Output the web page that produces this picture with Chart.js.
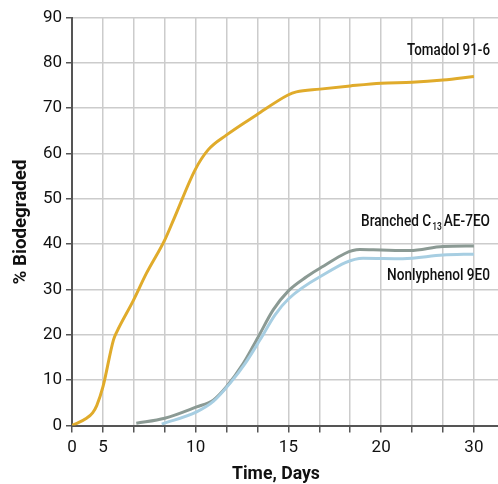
<!DOCTYPE html>
<html>
<head>
<meta charset="utf-8">
<script src="https://cdn.jsdelivr.net/npm/chart.js@4.4.1/dist/chart.umd.min.js"></script>
<style>
  html, body { margin: 0; padding: 0; background: #fff; }
</style>
</head>
<body>
<canvas id="chart" width="498" height="484"></canvas>
<script>
// Biodegradation curves — time vs % biodegraded

const FONT = 'Roboto, "Liberation Sans", Arial, sans-serif';

// the time axis has evenly spaced gridlines but uneven day steps
const X_TICK_LABELS = ["0", "5", "", "", "10", "", "", "15", "", "", "20", "", "", "30"];
const AXIS_BREAK_DAYS = [0, 5, 20, 30];
const AXIS_BREAK_POS = [0, 1, 10, 13];

const tomadolDays = [0, 2.35, 3.33, 4, 5, 5.57, 5.73, 6.63, 7.35, 8.33, 8.8, 9.97, 10.67, 11.67, 13.28, 14.98, 15.43, 16.7, 18.33, 20, 23.33, 26.67, 30];
const tomadolPct = [0, 1.6, 2.8, 4.4, 8.5, 18.9, 20.5, 27.5, 33.6, 40.9, 45.3, 56.4, 60.8, 64.1, 68.5, 72.9, 73.6, 74.2, 74.9, 75.5, 75.7, 76.2, 77.0];

const branchedDays = [6.8, 8.33, 10.05, 10.95, 11.67, 12.57, 13.38, 14.18, 15, 15.98, 16.7, 18.85, 20, 23.1, 26.67, 30];
const branchedPct = [0.5, 1.6, 4.1, 5.6, 8.6, 13.7, 19.6, 25.5, 29.7, 32.8, 34.7, 38.8, 38.7, 38.6, 39.5, 39.6];

const nonylDays = [8.17, 10.05, 10.95, 11.85, 12.67, 13.47, 14.28, 15, 16.7, 19.03, 22.33, 26.67, 30];
const nonylPct = [0.3, 3.0, 5.3, 9.3, 13.7, 18.9, 24.4, 27.9, 32.8, 36.9, 36.8, 37.6, 37.8];

const SERIES_COLORS = { tomadol: "#e0ab2b", branched: "#8b9a94", nonyl: "#a7cee2" };

function dayToPos(d) {
    for (let i = 1; i < AXIS_BREAK_DAYS.length; i++) {
        if (d <= AXIS_BREAK_DAYS[i]) {
            const d0 = AXIS_BREAK_DAYS[i - 1], d1 = AXIS_BREAK_DAYS[i];
            const p0 = AXIS_BREAK_POS[i - 1], p1 = AXIS_BREAK_POS[i];
            return p0 + (d - d0) / (d1 - d0) * (p1 - p0);
        }
    }
    return AXIS_BREAK_POS[AXIS_BREAK_POS.length - 1];
}

const toPoints = (days, pct) => days.map((d, i) => ({ x: dayToPos(d), y: pct[i] }));

const lineSet = (label, days, pct, color) => ({
    label,
    data: toPoints(days, pct),
    borderColor: color,
    borderWidth: 3,
    pointRadius: 0,
    fill: false,
    cubicInterpolationMode: "monotone",
});

// condensed text: squeeze horizontally around the anchor
function narrowText(ctx, text, x, y, sx) {
    ctx.save();
    ctx.translate(x, y);
    ctx.scale(sx, 1);
    ctx.fillText(text, 0, 0);
    ctx.restore();
    return ctx.measureText(text).width * sx;
}

const fitScale = (ctx, text, w) => w / ctx.measureText(text).width;

const labelsPlugin = {
    id: "labels",
    afterDraw(chart) {
        const { ctx, chartArea, scales } = chart;
        const xs = scales.x, ys = scales.y;
        ctx.save();
        ctx.fillStyle = "#111";

        // axis titles
        ctx.textAlign = "center";
        ctx.textBaseline = "middle";
        ctx.font = "bold 18px " + FONT;
        const xMid = (chartArea.left + xs.getPixelForValue(13)) / 2;
        narrowText(ctx, "Time, Days", xMid + 3, 474, fitScale(ctx, "Time, Days", 88));
        ctx.font = "bold 18px " + FONT;
        ctx.translate(21, 222);
        ctx.rotate(-Math.PI / 2);
        narrowText(ctx, "% Biodegraded", 0, 0, fitScale(ctx, "% Biodegraded", 125));
        ctx.setTransform(1, 0, 0, 1, 0, 0);

        // series labels, right aligned
        const right = chartArea.right - 8;
        ctx.font = "500 16px " + FONT;
        ctx.textAlign = "right";
        narrowText(ctx, "Tomadol 91-6", right, ys.getPixelForValue(82.6), fitScale(ctx, "Tomadol 91-6", 83));
        const sx = fitScale(ctx, "Nonlyphenol 9E0", 103);
        narrowText(ctx, "Nonlyphenol 9E0", right, ys.getPixelForValue(33.0), sx);

        const yb = ys.getPixelForValue(45.0);
        let x = right - narrowText(ctx, "AE-7EO", right, yb, sx) - 2;
        ctx.font = "500 10px " + FONT;
        x -= narrowText(ctx, "13", x, yb + 6, sx) + 1;
        ctx.font = "500 16px " + FONT;
        narrowText(ctx, "Branched C", x, yb, sx);
        ctx.restore();
    }
};

new Chart(document.getElementById("chart"), {
    type: "line",
    data: {
        datasets: [
            lineSet("Nonlyphenol 9E0", nonylDays, nonylPct, SERIES_COLORS.nonyl),
            lineSet("Branched C13 AE-7EO", branchedDays, branchedPct, SERIES_COLORS.branched),
            lineSet("Tomadol 91-6", tomadolDays, tomadolPct, SERIES_COLORS.tomadol),
        ]
    },
    options: {
        responsive: false,
        animation: false,
        devicePixelRatio: 1,
        layout: { padding: { top: 17.5, right: 0, left: 0, bottom: 0 } },
        plugins: { legend: { display: false }, tooltip: { enabled: false } },
        scales: {
            x: {
                type: "linear",
                min: 0,
                max: 13.78,
                afterBuildTicks: (s) => { s.ticks = X_TICK_LABELS.map((_, i) => ({ value: i })); },
                afterFit: (s) => { s.height = 58.5; },
                ticks: {
                    autoSkip: false,
                    maxRotation: 0,
                    padding: 5,
                    color: "#111",
                    font: { family: FONT, size: 17 },
                    callback: (v, i) => X_TICK_LABELS[i] ?? "",
                },
                grid: { color: "#cccccc", lineWidth: 1.5, tickLength: 7, tickColor: "#555", tickWidth: 1.5 },
                border: { color: "#555", width: 2 },
            },
            y: {
                min: 0,
                max: 90,
                afterFit: (s) => { s.width = 72; },
                ticks: {
                    stepSize: 10,
                    padding: 4,
                    color: "#111",
                    font: { family: FONT, size: 17 },
                },
                grid: { color: "#cccccc", lineWidth: 1.5, tickLength: 6, tickColor: "#555", tickWidth: 1.5 },
                border: { color: "#555", width: 2 },
            },
        },
    },
    plugins: [labelsPlugin],
});
</script>
</body>
</html>
